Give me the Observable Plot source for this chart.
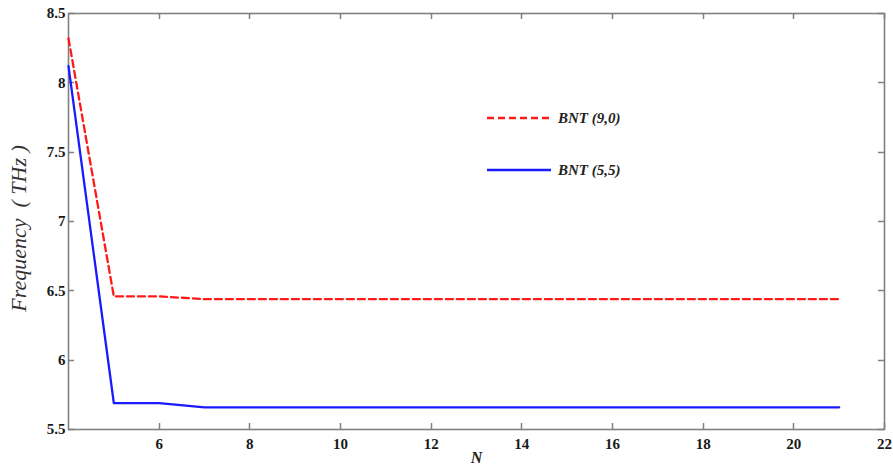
<!DOCTYPE html>
<html>
<head>
<meta charset="utf-8">
<script src="https://cdn.jsdelivr.net/npm/d3@7"></script>
<script src="https://cdn.jsdelivr.net/npm/@observablehq/plot@0.6"></script>
<style>
  html, body { margin: 0; padding: 0; background: #fff; }
  #wrap { position: relative; width: 893px; height: 470px; }
  .legend { position: absolute; left: 486px; font-family: "Liberation Serif", serif; font-weight: bold; font-style: italic; font-size: 15px; color: #222; display: flex; align-items: center; }
  .legend svg { margin-right: 6px; }
</style>
</head>
<body>
<div id="wrap"></div>
<script>
// Number of unit cells N
const N = [4, 5, 6, 7, 8, 9, 10, 11, 12, 13, 14, 15, 16, 17, 18, 19, 20, 21];
// Natural frequency (THz) for each nanotube
const bnt90 = [8.32, 6.46, 6.46, 6.44, 6.44, 6.44, 6.44, 6.44, 6.44, 6.44, 6.44, 6.44, 6.44, 6.44, 6.44, 6.44, 6.44, 6.44];
const bnt55 = [8.12, 5.69, 5.69, 5.66, 5.66, 5.66, 5.66, 5.66, 5.66, 5.66, 5.66, 5.66, 5.66, 5.66, 5.66, 5.66, 5.66, 5.66];
const seriesNames = ["BNT (9,0)", "BNT (5,5)"];
const xTicks = [6, 8, 10, 12, 14, 16, 18, 20, 22];
const yTicks = [5.5, 6, 6.5, 7, 7.5, 8, 8.5];
const yTickLabels = ["5.5", "6", "6.5", "7", "7.5", "8", "8.5"];

const rows90 = N.map((n, i) => ({n, f: bnt90[i]}));
const rows55 = N.map((n, i) => ({n, f: bnt55[i]}));

const tickLen = 6;
const frameColor = "#808080";
const tickFont = {fontFamily: "Liberation Serif, serif", fontWeight: "bold", fontSize: 15, fill: "#1a1a1a"};

// Custom mark: short inward ticks on all four sides of the frame, placed with the plot's scales
function inwardTicks(index, scales, values, dims) {
  const left = dims.marginLeft, right = dims.width - dims.marginRight;
  const top = dims.marginTop, bottom = dims.height - dims.marginBottom;
  const g = d3.create("svg:g").attr("stroke", frameColor).attr("stroke-width", 1.5);
  for (const t of xTicks) {
    const px = Math.round(scales.x(t)) + 0.5;
    g.append("line").attr("x1", px).attr("x2", px).attr("y1", bottom).attr("y2", bottom - tickLen);
    g.append("line").attr("x1", px).attr("x2", px).attr("y1", top).attr("y2", top + tickLen);
  }
  for (const t of yTicks) {
    const py = Math.round(scales.y(t)) + 0.5;
    g.append("line").attr("y1", py).attr("y2", py).attr("x1", left).attr("x2", left + tickLen);
    g.append("line").attr("y1", py).attr("y2", py).attr("x1", right).attr("x2", right - tickLen);
  }
  return g.node();
}

const chart = Plot.plot({
  width: 893,
  height: 470,
  marginLeft: 68,
  marginRight: 9,
  marginTop: 13,
  marginBottom: 41,
  style: {background: "#fff", overflow: "visible"},
  x: {domain: [4, 22]},
  y: {domain: [5.5, 8.5]},
  marks: [
    inwardTicks,
    Plot.frame({stroke: frameColor, strokeWidth: 1.6}),
    Plot.axisX({ticks: xTicks, tickSize: 0, tickPadding: 9, label: null, tickFormat: d => String(d), ...tickFont}),
    Plot.axisY({ticks: yTicks, tickSize: 0, tickPadding: 3, label: null, tickFormat: d => yTickLabels[yTicks.indexOf(d)], ...tickFont}),
    Plot.line(rows90, {x: "n", y: "f", stroke: "#ff1a1a", strokeWidth: 2.3, strokeDasharray: "7,4"}),
    Plot.line(rows55, {x: "n", y: "f", stroke: "#1a1aff", strokeWidth: 2.3}),
    Plot.text(["Frequency  ( THz )"], {frameAnchor: "left", textAnchor: "middle", rotate: -90, dx: -50, dy: 7, text: d => d, fontFamily: "Liberation Serif, serif", fontStyle: "italic", fontSize: 22, fill: "#333"}),
    Plot.text(["N"], {frameAnchor: "bottom", dy: 33, text: d => d, fontFamily: "Liberation Serif, serif", fontStyle: "italic", fontWeight: "bold", fontSize: 16, fill: "#222"})
  ]
});

const wrap = document.getElementById("wrap");
wrap.appendChild(chart);

// Legend with line swatches
const legendItems = [
  {name: seriesNames[0], color: "#ff1a1a", dash: "7,4", top: 108},
  {name: seriesNames[1], color: "#1a1aff", dash: null, top: 160}
];
for (const item of legendItems) {
  const div = document.createElement("div");
  div.className = "legend";
  div.style.top = item.top + "px";
  div.innerHTML = `<svg width="66" height="20"><line x1="1" y1="10" x2="65" y2="10" stroke="${item.color}" stroke-width="2.3" ${item.dash ? `stroke-dasharray="${item.dash}"` : ""}/></svg><span>${item.name}</span>`;
  wrap.appendChild(div);
}
</script>
</body>
</html>
